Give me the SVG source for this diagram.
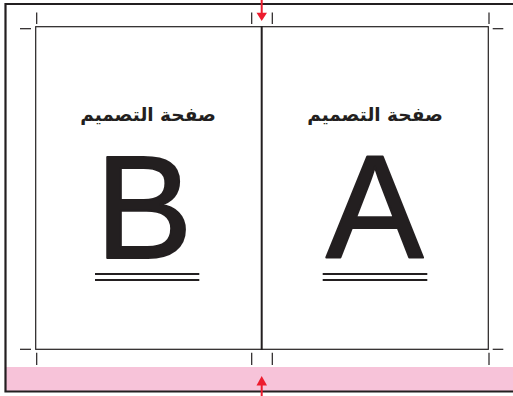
<svg xmlns="http://www.w3.org/2000/svg" width="513" height="396" viewBox="0 0 513 396">
<defs>
<style>
.frame{fill:none;stroke:#231f20;stroke-width:2.2}
.page{fill:#fff;stroke:#231f20;stroke-width:1.2}
.spine{stroke:#231f20;stroke-width:2}
.tick{stroke:#231f20;stroke-width:1.2}
.ul{stroke:#231f20;stroke-width:2.2}
.arrow{stroke:#ed1c2e;stroke-width:2}
.ah{fill:#ed1c2e}
.title{font-family:"DejaVu Sans",sans-serif;font-weight:bold;font-size:18.5px;fill:#231f20;text-anchor:middle}
.big{font-family:"Liberation Sans",Arial,sans-serif;font-size:146px;fill:#231f20;stroke:#231f20;stroke-width:2;stroke-linejoin:round}
</style>
</defs>
<rect x="0" y="0" width="513" height="396" fill="#fff"/>
<rect x="6" y="367" width="510" height="24" fill="#f7c3d9"/>
<path class="frame" d="M516,4 H5.5 V391.5 H516"/>
<g id="pages">
<rect class="page" x="35.7" y="26.7" width="452.6" height="322.6"/>
<line class="spine" x1="261.7" y1="26" x2="261.7" y2="350"/>
</g>
<g id="cropmarks">
<line class="tick" x1="36.7" y1="12.5" x2="36.7" y2="24"/>
<line class="tick" x1="251.7" y1="12.5" x2="251.7" y2="24"/>
<line class="tick" x1="272.3" y1="12.5" x2="272.3" y2="24"/>
<line class="tick" x1="489" y1="12.5" x2="489" y2="24"/>
<line class="tick" x1="20" y1="28.7" x2="31" y2="28.7"/>
<line class="tick" x1="492.7" y1="28.7" x2="503.3" y2="28.7"/>
<line class="tick" x1="20" y1="349.3" x2="31" y2="349.3"/>
<line class="tick" x1="492.7" y1="349.3" x2="503.3" y2="349.3"/>
<line class="tick" x1="36.7" y1="352.7" x2="36.7" y2="365"/>
<line class="tick" x1="251.7" y1="352.7" x2="251.7" y2="365"/>
<line class="tick" x1="272.3" y1="352.7" x2="272.3" y2="365"/>
<line class="tick" x1="489" y1="352.7" x2="489" y2="365"/>
</g>
<g id="pageB">
<text class="title" x="148" y="121">صفحة التصميم</text>
<text class="big" x="95.2" y="258.3">B</text>
<line class="ul" x1="95" y1="274" x2="199.3" y2="274"/>
<line class="ul" x1="95" y1="280" x2="199.3" y2="280"/>
</g>
<g id="pageA">
<text class="title" x="375" y="121">صفحة التصميم</text>
<text class="big" x="326" y="258.3">A</text>
<line class="ul" x1="322.7" y1="274" x2="427.3" y2="274"/>
<line class="ul" x1="322.7" y1="280" x2="427.3" y2="280"/>
</g>
<g id="connectors">
<line class="arrow" x1="261.7" y1="0" x2="261.7" y2="14"/>
<polygon class="ah" points="256.5,12.7 267,12.7 261.7,21"/>
<line class="arrow" x1="261.7" y1="384" x2="261.7" y2="396"/>
<polygon class="ah" points="256.5,385.5 267,385.5 261.7,376"/>
</g>
</svg>
